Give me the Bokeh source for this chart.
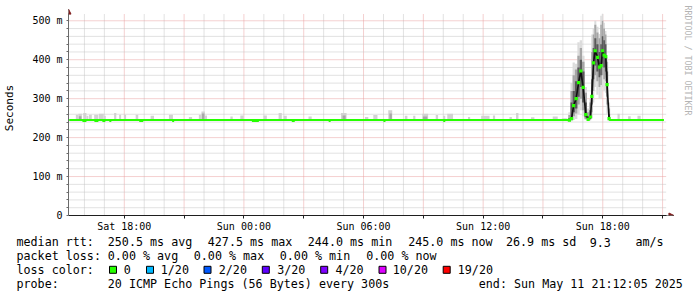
import math
import numpy as np
from bokeh.plotting import figure
from bokeh.models import Range1d, FixedTicker, Arrow, NormalHead, Label
from bokeh.layouts import column
from bokeh.core.properties import value
from bokeh.embed import file_html
from bokeh.resources import INLINE

# ---------------- data (time in hours since Sat 00:00, values in ms) ----------------
t_start = 15.2014   # Sat 15:12:05
t_end = 45.2014     # Sun 21:12:05
y_top = 518.7       # top of the graph canvas
data_start = 15.235
data_end = 45.068
median_base = 245.0

y_ticks = [0, 100, 200, 300, 400, 500]
y_tick_labels = ["0", "100 m", "200 m", "300 m", "400 m", "500 m"]
x_ticks = [18, 24, 30, 36, 42]
x_tick_labels = ["Sat 18:00", "Sun 00:00", "Sun 06:00", "Sun 12:00", "Sun 18:00"]
x_minor_ticks = [21, 27, 33, 39, 45]

# small smoke bumps above the flat baseline
bump_start = [15.57, 15.70, 15.94, 16.10, 16.23, 16.49, 16.73, 16.99, 17.49, 17.74, 17.99, 18.57,
              19.32, 20.24, 21.24, 21.74, 21.87, 22.04, 23.32, 23.82, 24.98, 25.74, 25.99, 27.24,
              28.87, 30.07, 30.49, 31.24, 32.07, 32.49, 32.95, 33.62, 33.99, 34.20, 35.24, 35.90,
              36.49, 37.32, 37.65, 38.40, 39.49, 39.95, 42.74, 43.27, 43.74]
bump_end = [15.70, 15.87, 16.10, 16.20, 16.37, 16.70, 16.97, 17.07, 17.60, 17.84, 18.09, 18.70,
            19.49, 20.44, 21.40, 21.87, 22.04, 22.15, 23.44, 23.99, 25.15, 25.90, 26.15, 27.40,
            29.15, 30.24, 30.70, 31.44, 32.20, 32.60, 33.24, 33.74, 34.10, 34.49, 35.35, 36.32,
            36.60, 37.44, 37.77, 38.57, 39.74, 40.20, 42.85, 43.40, 43.90]
bump_top = [259, 261, 263, 256, 259, 259, 261, 256, 263, 259, 259, 259,
            256, 259, 253, 259, 267, 257, 254, 257, 257, 263, 256, 254,
            263, 253, 258, 270, 256, 256, 261, 258, 256, 261, 253, 256,
            257, 253, 263, 252, 254, 250, 261, 255, 256]
bump_bottom = [243] * len(bump_top)
dark_start = [15.72, 21.89, 28.95, 31.30, 32.98]
dark_end = [15.85, 22.02, 29.10, 31.42, 33.20]
dark_top = [255, 262, 257, 262, 254]
dark_bottom = [243] * len(dark_top)

# green median slightly below the baseline
dip_start = [15.90, 16.50, 16.90, 17.25, 18.75, 20.40, 24.40, 26.40, 28.25, 31.00, 34.00]
dip_end = [16.10, 16.70, 17.05, 17.35, 18.95, 20.50, 24.75, 26.55, 28.35, 31.10, 34.10]
dip_value = [242.5, 242.5, 242.5, 242.5, 242.5, 242.5, 242.5, 242.5, 242.5, 242.5, 242.5]

# latency event on Sunday evening
ev_t = [40.326, 40.436, 40.536, 40.666, 40.786, 40.901, 41.016, 41.151, 41.266, 41.386, 41.451,
        41.536, 41.616, 41.736, 41.836, 41.916, 41.986, 42.066, 42.151, 42.216, 42.316]
ev_med = [245, 249, 282, 300, 341, 371, 329, 259, 247, 253, 306, 392, 423, 406, 381, 385, 423, 412, 408, 336, 249]
ev_min = [240, 242, 245, 248, 260, 270, 255, 245, 243, 244, 250, 290, 330, 310, 300, 300, 330, 320, 315, 260, 243]
ev_p10 = [243, 245, 255, 262, 285, 300, 270, 248, 245, 246, 265, 320, 360, 345, 330, 335, 360, 350, 345, 285, 245]
ev_q1 = [244, 247, 265, 275, 305, 330, 290, 252, 246, 248, 285, 350, 385, 370, 355, 360, 390, 380, 370, 305, 246]
ev_q3 = [250, 290, 320, 345, 380, 400, 370, 290, 255, 270, 350, 430, 455, 440, 420, 440, 460, 450, 440, 370, 260]
ev_p90 = [258, 320, 360, 375, 410, 430, 395, 315, 265, 290, 420, 465, 490, 470, 455, 490, 500, 480, 465, 395, 275]
ev_max = [265, 340, 393, 390, 445, 450, 410, 330, 275, 300, 465, 480, 500, 485, 466, 513, 518, 495, 474, 405, 290]

rtt_stats = ["250.5 ms avg", "427.5 ms max", "244.0 ms min", "245.0 ms now", "26.9 ms sd", "9.3", "am/s"]
loss_stats = ["0.00 % avg", "0.00 % max", "0.00 % min", "0.00 % now"]
loss_labels = ["0", "1/20", "2/20", "3/20", "4/20", "10/20", "19/20"]
loss_colors = ["#26ff00", "#00b8ff", "#0059ff", "#5e00ff", "#7e00ff", "#dd00ff", "#ff0000"]
probe_text = "20 ICMP Echo Pings (56 Bytes) every 300s"
end_text = "end: Sun May 11 21:12:05 2025"
credit_text = "RRDTOOL / TOBI OETIKER"

# ---------------- styles ----------------
MONO = "DejaVu Sans Mono"
GREEN = loss_colors[0]
ARROW = "#801f1f"
MINOR_GRID = "#c4c4c4"
MAJOR_GRID = "#e9a0a0"

# ---------------- main chart ----------------
# frame spans from the y axis (x=66px) to the right edge of the image and from the top
# of the image to the x axis; 20 px per hour, 0.3894 px per ms
p = figure(width=697, height=235, x_range=Range1d(t_start, 46.7514), y_range=Range1d(0, 552.1),
           output_backend="svg", toolbar_location=None,
           min_border_left=66, min_border_right=0, min_border_top=0, min_border_bottom=20,
           background_fill_color="white", border_fill_color="white")
p.outline_line_color = None
p.xgrid.visible = False
p.ygrid.visible = False
p.frame_align = False

x_minor_grid = [h for h in range(16, 46) if h % 3 != 0]
x_major_grid = [h for h in range(18, 46, 3)]
y_minor_grid = [v for v in range(20, 519, 20) if v % 100 != 0]
y_major_grid = [100, 200, 300, 400, 500]
for ticks, col in [(x_minor_grid, MINOR_GRID), (x_major_grid, MAJOR_GRID)]:
    p.segment(x0=ticks, x1=ticks, y0=[0] * len(ticks), y1=[y_top] * len(ticks),
              line_color=col, line_width=1, line_dash="1 1")
for ticks, col in [(y_minor_grid, MINOR_GRID), (y_major_grid, MAJOR_GRID)]:
    p.segment(x0=[t_start] * len(ticks), x1=[t_end] * len(ticks), y0=ticks, y1=ticks,
              line_color=col, line_width=1, line_dash="1 1")

xa = p.xaxis[0]
xa.bounds = (t_start, t_end)
xa.ticker = FixedTicker(ticks=x_ticks, minor_ticks=x_minor_ticks)
xa.major_label_overrides = dict(zip(x_ticks, x_tick_labels))
xa.major_label_text_font = MONO
xa.major_label_text_font_size = "10px"
xa.major_label_text_color = "#000000"
xa.axis_line_color = "#1f1f1f"
xa.major_tick_line_color = "#1f1f1f"
xa.minor_tick_line_color = "#1f1f1f"
xa.major_tick_out = 3
xa.major_tick_in = 0
xa.minor_tick_out = 3
xa.minor_tick_in = 0
xa.major_label_standoff = 2

ya = p.yaxis[0]
ya.bounds = (0, y_top)
ya.ticker = FixedTicker(ticks=y_ticks, minor_ticks=y_minor_grid)
ya.major_label_overrides = dict(zip(y_ticks, y_tick_labels))
ya.major_label_text_font = MONO
ya.major_label_text_font_size = "10px"
ya.major_label_text_color = "#000000"
ya.axis_line_color = "#6a6a6a"
ya.major_tick_line_color = "#6a6a6a"
ya.minor_tick_line_color = "#6a6a6a"
ya.major_tick_out = 2
ya.major_tick_in = 0
ya.minor_tick_out = 2
ya.minor_tick_in = 0
ya.major_label_standoff = 4
ya.axis_label = "Seconds"
ya.axis_label_text_font = MONO
ya.axis_label_text_font_size = "11px"
ya.axis_label_text_font_style = "normal"
ya.axis_label_text_color = "#000000"
ya.axis_label_standoff = 13

# baseline smoke bumps
p.quad(left=bump_start, right=bump_end, bottom=bump_bottom, top=bump_top,
       fill_color="#d2d2d2", line_color=None)
p.quad(left=dark_start, right=dark_end, bottom=dark_bottom, top=dark_top,
       fill_color="#a8a8a8", line_color=None)

# event smoke
t = np.array(ev_t)
mid = (t[1:] + t[:-1]) / 2
left = np.concatenate([[t[0] - (t[1] - t[0]) / 2], mid])
right = np.concatenate([mid, [t[-1] + (t[-1] - t[-2]) / 2]])
p.quad(left=left, right=right, bottom=ev_min, top=ev_max, fill_color="#dcdcdc", line_color=None)
p.quad(left=left, right=right, bottom=ev_p10, top=ev_p90, fill_color="#a6a6a6", line_color=None)
p.quad(left=left, right=right, bottom=ev_q1, top=ev_q3, fill_color="#595959", line_color=None)

# median
p.line(ev_t, ev_med, line_color="#101010", line_width=1.6)
p.line([data_start, ev_t[0]], [median_base, median_base], line_color=GREEN, line_width=2)
p.line([ev_t[-1], data_end], [median_base, median_base], line_color=GREEN, line_width=2)
p.segment(x0=dip_start, x1=dip_end, y0=dip_value, y1=dip_value, line_color=GREEN, line_width=2)
p.scatter(ev_t, ev_med, marker="square", size=3.2, fill_color=GREEN, line_color=None)

# axis arrows
p.add_layout(Arrow(end=NormalHead(size=5, fill_color=ARROW, line_color=ARROW, line_width=1),
                   x_start=t_start, y_start=500, x_end=t_start, y_end=530,
                   line_color="#6a6a6a", line_width=1))
p.add_layout(Arrow(end=NormalHead(size=5, fill_color=ARROW, line_color=ARROW, line_width=1),
                   x_start=44.0, y_start=0, x_end=45.57, y_end=0,
                   line_color="#1f1f1f", line_width=1))

p.add_layout(Label(x=46.276, y=539.3, text=credit_text, angle=-math.pi / 2,
                   text_font=MONO, text_font_size="8.3px", text_color="#b4b4b4",
                   text_align="left", text_baseline="middle"))

# ---------------- legend ----------------
q = figure(width=697, height=62, x_range=Range1d(0, 697), y_range=Range1d(62, 0),
           output_backend="svg", toolbar_location=None, min_border=0,
           x_axis_location=None, y_axis_location=None,
           background_fill_color="white", border_fill_color="white")
q.outline_line_color = None
q.grid.visible = False
q.frame_align = False

row_y = [6.5, 20.0, 34.3, 48.3]
tx, ty, tt = [], [], []
tx += [16, 107.3, 207.3, 307.3, 407.7, 505.5, 589.3, 635]
ty += [row_y[0]] * 8
tt += ["median rtt:"] + rtt_stats
tx += [16, 107.3, 193.3, 279.3, 365.7]
ty += [row_y[1]] * 5
tt += ["packet loss:"] + loss_stats
sq_x = [112.5, 149.5, 207.0, 265.3, 323.7, 382.0, 446.2]
lab_x = [123.3, 160.3, 218.3, 276.7, 335.0, 392.3, 457.3]
tx += [16] + lab_x
ty += [row_y[2]] * 8
tt += ["loss color:"] + loss_labels
tx += [16, 107.3, 478.3]
ty += [row_y[3]] * 3
tt += ["probe:", probe_text, end_text]

q.text(x=tx, y=ty, text=tt, text_font=value(MONO), text_font_size=value("11.7px"),
       text_color="#000000", text_align="left", text_baseline="middle")
q.rect(x=sq_x, y=[row_y[2]] * 7, width=7, height=7, fill_color=loss_colors,
       line_color="#000000", line_width=1)

layout = column(p, q, spacing=0)
open("out.html", "w").write(file_html(layout, INLINE))
